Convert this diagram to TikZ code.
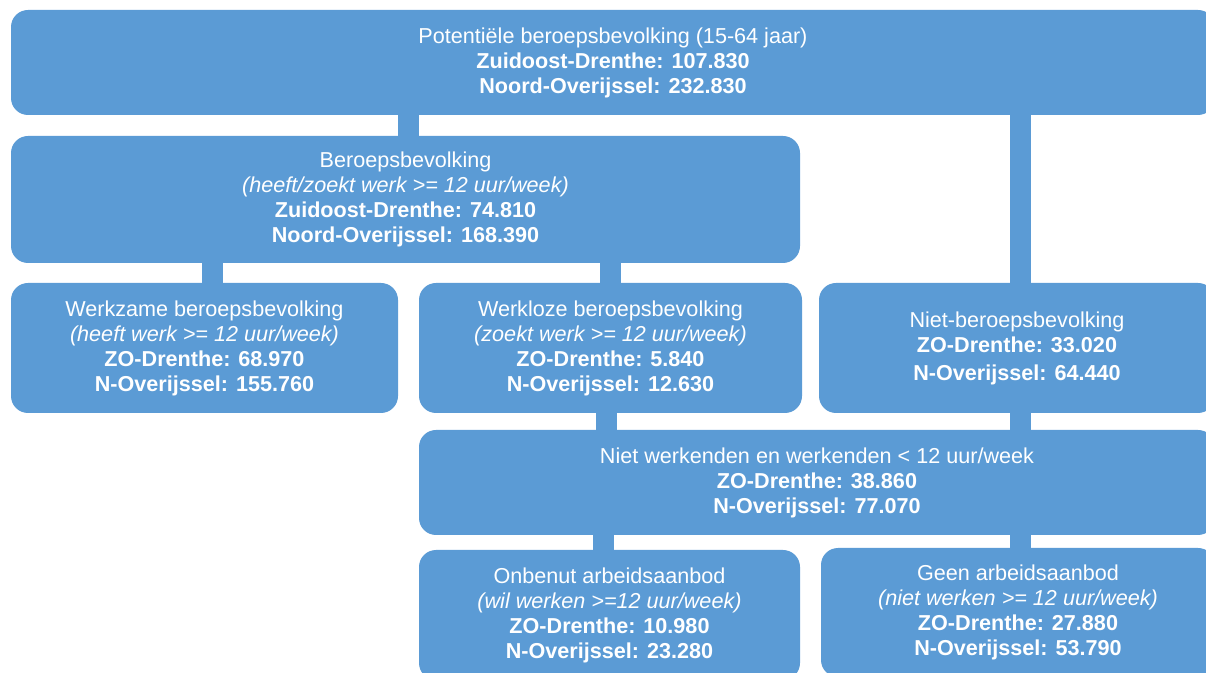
\documentclass[tikz,border=0pt]{standalone}
\usepackage{fontspec}
\setmainfont{Liberation Sans}
\definecolor{boxblue}{HTML}{5B9BD5}
\tikzset{
  box/.style={fill=boxblue, rounded corners=8.5pt, text=white, align=center,
    inner sep=0pt, font=\fontsize{10.8}{12.5}\selectfont},
  link/.style={draw=boxblue, line width=10.5pt}
}
\begin{document}
\begin{tikzpicture}[x=0.5pt, y=-0.5pt]

  \useasboundingbox (0,0) rectangle (1206,673);
  \clip (0,0) rectangle (1206,673);

  % -- Top level --
  \node[box, minimum width=602pt, minimum height=52.5pt] (potentieel) at (613,62.5)
    {Potentiële beroepsbevolking (15-64 jaar)\\
     \textbf{Zuidoost-Drenthe: 107.830}\\
     \textbf{Noord-Overijssel: 232.830}};

  % -- Second level --
  \node[box, minimum width=394.5pt, minimum height=63.5pt] (beroeps) at (405.5,199.5)
    {Beroepsbevolking\\
     \textit{(heeft/zoekt werk >= 12 uur/week)}\\
     \textbf{Zuidoost-Drenthe: 74.810}\\
     \textbf{Noord-Overijssel: 168.390}};

  % -- Third level --
  \node[box, minimum width=193.5pt, minimum height=65pt] (werkzaam) at (204.5,348)
    {Werkzame beroepsbevolking\\
     \textit{(heeft werk >= 12 uur/week)}\\
     \textbf{ZO-Drenthe: 68.970}\\
     \textbf{N-Overijssel: 155.760}};
  \node[box, minimum width=191.5pt, minimum height=65pt] (werkloos) at (610.5,348)
    {Werkloze beroepsbevolking\\
     \textit{(zoekt werk >= 12 uur/week)}\\
     \textbf{ZO-Drenthe: 5.840}\\
     \textbf{N-Overijssel: 12.630}};
  \node[box, minimum width=198pt, minimum height=65pt] (nietberoeps) at (1017,348)
    {Niet-beroepsbevolking\\
     \textbf{ZO-Drenthe: 33.020}\\[1.5pt]
     \textbf{N-Overijssel: 64.440}};

  % -- Fourth level --
  \node[box, minimum width=398pt, minimum height=52.5pt] (nietwerkend) at (817,482.5)
    {Niet werkenden en werkenden < 12 uur/week\\
     \textbf{ZO-Drenthe: 38.860}\\
     \textbf{N-Overijssel: 77.070}};

  % -- Bottom level --
  \node[box, minimum width=190.5pt, minimum height=65pt] (onbenut) at (609.5,615)
    {Onbenut arbeidsaanbod\\
     \textit{(wil werken >=12 uur/week)}\\
     \textbf{ZO-Drenthe: 10.980}\\
     \textbf{N-Overijssel: 23.280}};
  \node[box, minimum width=197pt, minimum height=64.5pt] (geen) at (1018,612.5)
    {Geen arbeidsaanbod\\
     \textit{(niet werken >= 12 uur/week)}\\
     \textbf{ZO-Drenthe: 27.880}\\
     \textbf{N-Overijssel: 53.790}};

  % -- Connectors --
  \draw[link] ([xshift=1.25pt]beroeps.north) -- ([xshift=1.25pt]beroeps.north |- potentieel.south);
  \draw[link] ([xshift=1.5pt]nietberoeps.north) -- ([xshift=1.5pt]nietberoeps.north |- potentieel.south);
  \draw[link] ([xshift=3.75pt]werkzaam.north) -- ([xshift=3.75pt]werkzaam.north |- beroeps.south);
  \draw[link] (werkloos.north) -- (werkloos.north |- beroeps.south);
  \draw[link] ([xshift=-2.25pt]werkloos.south) -- ([xshift=-2.25pt]werkloos.south |- nietwerkend.north);
  \draw[link] ([xshift=1.5pt]nietberoeps.south) -- ([xshift=1.5pt]nietberoeps.south |- nietwerkend.north);
  \draw[link] ([xshift=-3.25pt]onbenut.north) -- ([xshift=-3.25pt]onbenut.north |- nietwerkend.south);
  \draw[link] ([xshift=1pt]geen.north) -- ([xshift=1pt]geen.north |- nietwerkend.south);

\end{tikzpicture}
\end{document}
